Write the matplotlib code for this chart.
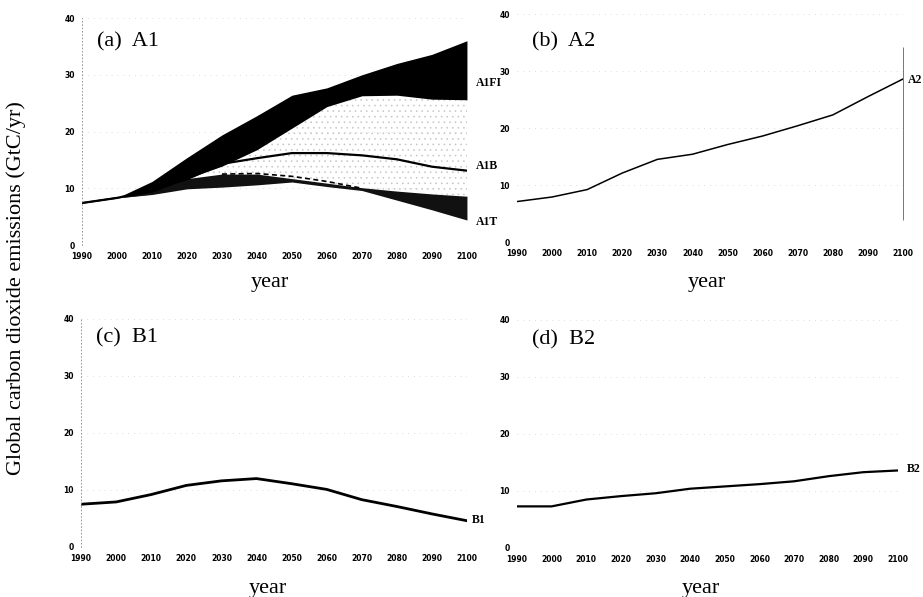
import numpy as np
import matplotlib
matplotlib.use("Agg")
import matplotlib.pyplot as plt

years = [1990, 2000, 2010, 2020, 2030, 2040, 2050, 2060, 2070, 2080, 2090, 2100]

# (a) A1 family, GtC/yr
a1_upper = [7.4, 8.3, 11.2, 15.4, 19.4, 22.8, 26.4, 27.7, 30.0, 32.0, 33.6, 36.0]
a1fi_low = [7.4, 8.3, 9.0, 11.7, 13.9, 16.8, 20.6, 24.4, 26.3, 26.4, 25.7, 25.6]
a1t_high = [7.4, 8.3, 9.3, 11.7, 12.5, 12.5, 11.7, 10.9, 10.1, 9.5, 9.0, 8.6]
a1t_low = [7.4, 8.3, 8.9, 9.9, 10.2, 10.6, 11.1, 10.3, 9.6, 7.9, 6.2, 4.4]
a1b = [7.4, 8.3, 9.6, 11.6, 14.3, 15.3, 16.2, 16.2, 15.8, 15.1, 13.8, 13.1]
dash_years = [2030, 2040, 2050, 2060, 2070]
a1_dashed = [12.5, 12.6, 12.1, 11.2, 10.0]

# (b)-(d) single marker scenarios
a2 = [7.1, 7.9, 9.2, 12.1, 14.5, 15.4, 17.1, 18.6, 20.4, 22.3, 25.5, 28.6]
a2_range = [3.9, 34.2]
b1 = [7.5, 7.9, 9.2, 10.8, 11.6, 12.0, 11.1, 10.1, 8.3, 7.1, 5.8, 4.6]
b2 = [7.3, 7.3, 8.5, 9.1, 9.6, 10.4, 10.8, 11.2, 11.7, 12.6, 13.3, 13.6]

serif = "Liberation Serif"
plt.rcParams["hatch.linewidth"] = 0.4

fig = plt.figure(figsize=(9.23, 5.97), dpi=100)

axes_pos = {
    "a": [0.0888, 0.5896, 0.4171, 0.3802],
    "b": [0.5601, 0.5946, 0.4182, 0.3819],
    "c": [0.0878, 0.0838, 0.4182, 0.3819],
    "d": [0.5601, 0.0821, 0.4128, 0.3819],
}
titles = {"a": "(a)  A1", "b": "(b)  A2", "c": "(c)  B1", "d": "(d)  B2"}
title_y = {"a": 0.894, "b": 0.878, "c": 0.917, "d": 0.915}

axs = {}
for key, pos in axes_pos.items():
    ax = fig.add_axes(pos)
    ax.set_xlim(1990, 2100)
    ax.set_ylim(0, 40)
    ax.set_xticks(years)
    ax.set_yticks([0, 10, 20, 30, 40])
    ax.tick_params(length=0, labelsize=5.5, pad=5)
    for lab in ax.get_xticklabels() + ax.get_yticklabels():
        lab.set_fontweight("bold")
    for side in ["top", "right", "bottom", "left"]:
        ax.spines[side].set_visible(False)
    if key in ("a", "c"):
        ax.spines["left"].set_visible(True)
        ax.spines["left"].set_linestyle((0, (1, 3)))
        ax.spines["left"].set_color("#888888")
        ax.spines["left"].set_linewidth(0.6)
    ax.grid(axis="y", color="#cfcfcf", linestyle=(0, (1, 6)), linewidth=0.6)
    ax.set_axisbelow(True)
    ax.text(0.04, title_y[key], titles[key], transform=ax.transAxes,
            fontsize=16, family=serif, va="center", ha="left")
    axs[key] = ax

# (a) A1
ax = axs["a"]
ax.fill_between(years, a1t_high, a1fi_low, color="none", edgecolor="#c4c4c4",
                hatch="...", linewidth=0, where=[y >= 2020 for y in years], interpolate=True)
ax.fill_between(years, a1fi_low, a1_upper, color="black", linewidth=0)
ax.fill_between(years, a1t_low, a1t_high, color="#111111", linewidth=0)
ax.plot(years, a1b, color="black", linewidth=1.6)
ax.plot(dash_years, a1_dashed, color="black", linewidth=1.2, linestyle=(0, (3, 2)))
ax.plot(years[:2], a1t_low[:2], color="black", linewidth=1.2)
lab_kw = dict(fontsize=8.5, family=serif, fontweight="bold", va="center", ha="left", clip_on=False)
ax.text(2102.5, 28.5, "A1FI", **lab_kw)
ax.text(2102.5, 13.9, "A1B", **lab_kw)
ax.text(2102.5, 4.1, "A1T", **lab_kw)

# (b) A2
ax = axs["b"]
ax.plot(years, a2, color="black", linewidth=1.1)
ax.vlines(years[-1], a2_range[0], a2_range[1], color="#777777", linewidth=0.7, clip_on=False)
ax.text(2101.5, 28.4, "A2", **lab_kw)

# (c) B1
ax = axs["c"]
ax.plot(years, b1, color="black", linewidth=2.0)
ax.text(2101.5, 4.7, "B1", **lab_kw)

# (d) B2
ax = axs["d"]
ax.plot(years, b2, color="black", linewidth=1.6)
ax.text(2102.5, 13.9, "B2", **lab_kw)

# axis labels
for xc, yc in [(270, 282), (707, 282), (268, 588), (701, 588)]:
    fig.text(xc / 923, 1 - yc / 597, "year", fontsize=16, family=serif,
             ha="center", va="center")
fig.text(0.017, 1 - 288 / 597, "Global carbon dioxide emissions (GtC/yr)",
         rotation=90, fontsize=16, family=serif, ha="center", va="center")

fig.savefig("out.png", dpi=100)
